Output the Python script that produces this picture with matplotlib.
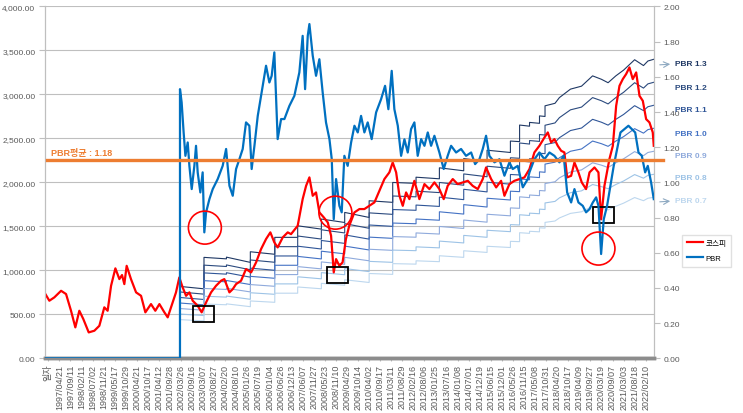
import matplotlib.pyplot as plt
from matplotlib.patches import Ellipse, Rectangle

plt.rcParams['font.family'] = ['Liberation Sans', 'Noto Sans CJK KR']

# --- x axis labels (category axis, one label every ~116 trading days) ---
date_labels = ['일자',
               '1997/04/21', '1997/09/11', '1998/02/11', '1998/07/02', '1998/11/21',
               '1999/05/17', '1999/10/29', '2000/04/21', '2000/10/17', '2001/04/12',
               '2001/09/28', '2002/03/26', '2002/09/16', '2003/03/07', '2003/08/27',
               '2004/02/20', '2004/08/10', '2005/01/26', '2005/07/19', '2006/01/04',
               '2006/06/26', '2006/12/13', '2007/06/07', '2007/11/27', '2008/05/23',
               '2008/11/10', '2009/04/29', '2009/10/14', '2010/04/02', '2010/09/17',
               '2011/03/11', '2011/08/29', '2012/02/16', '2012/08/06', '2013/01/25',
               '2013/07/16', '2014/01/08', '2014/07/01', '2014/12/19', '2015/06/15',
               '2015/12/01', '2016/05/26', '2016/11/15', '2017/05/08', '2017/10/31',
               '2018/04/20', '2018/10/17', '2019/04/09', '2019/09/27', '2020/03/19',
               '2020/09/07', '2021/03/03', '2021/08/18', '2022/02/10']

# --- KOSPI (left axis), x in label positions ---
kospi_x = [-0.27, 0.09, 0.54, 1.15, 1.60, 2.05, 2.44, 2.80, 3.16, 3.65,
           4.16, 4.61, 5.06, 5.36, 5.67, 6.06, 6.42, 6.66, 6.87, 7.08,
           7.47, 7.93, 8.38, 8.77, 9.28, 9.67, 10.04, 10.49, 10.79, 11.24,
           11.54, 11.84, 12.14, 12.45, 12.75, 13.05, 13.5, 13.86, 14.26, 14.71,
           15.16, 15.61, 15.91, 16.37, 16.67, 16.97, 17.42, 17.87, 18.33, 18.78,
           19.23, 19.68, 20.07, 20.43, 20.73, 21.19, 21.64, 21.94, 22.54, 22.99,
           23.3, 23.6, 23.9, 24.2, 24.5, 24.9, 25.26, 25.56, 25.8, 26.01,
           26.31, 26.6, 26.9, 27.2, 27.67, 28.12, 28.57, 29.02, 29.48, 29.93,
           30.38, 30.83, 31.13, 31.44, 31.74, 32.04, 32.34, 32.64, 33.09, 33.54,
           34.0, 34.45, 34.9, 35.35, 35.74, 36.1, 36.56, 37.0, 37.46, 37.92,
           38.36, 38.82, 39.27, 39.57, 40.03, 40.48, 40.93, 41.23, 41.68, 42.13,
           42.59, 43.04, 43.49, 43.94, 44.39, 44.85, 45.15, 45.45, 45.75, 46.05,
           46.36, 46.65, 46.9, 47.26, 47.56, 47.92, 48.22, 48.61, 48.92, 49.37,
           49.73, 49.97, 50.27, 50.72, 51.03, 51.33, 51.63, 51.93, 52.23, 52.53,
           52.83, 53.14, 53.44, 53.74, 54.04, 54.34, 54.64, 54.73]
kospi = [731, 655, 693, 768, 731, 541, 352, 541, 447, 295,
         314, 370, 580, 541, 825, 1023, 901, 947, 844, 1052,
         901, 750, 711, 523, 617, 541, 617, 523, 466, 636,
         750, 920, 807, 711, 750, 655, 598, 523, 636, 750,
         825, 882, 901, 750, 787, 844, 882, 1015, 977, 1091,
         1242, 1356, 1432, 1318, 1261, 1375, 1432, 1412, 1507, 1810,
         1961, 2057, 1848, 1886, 1659, 1602, 1545, 1393, 977, 1128,
         1052, 1091, 1356, 1507, 1659, 1697, 1697, 1734, 1773, 1905,
         2038, 2114, 2227, 2114, 1848, 1734, 1886, 1810, 2018, 1810,
         1981, 1924, 2000, 1924, 1810, 1961, 2038, 1981, 2000, 2018,
         1961, 1924, 2038, 2170, 2038, 1943, 2018, 1848, 1981, 2018,
         2038, 2057, 2151, 2341, 2416, 2511, 2568, 2455, 2492, 2416,
         2359, 2341, 2057, 2075, 2227, 2114, 2000, 1924, 2114, 2170,
         2114, 1580, 1961, 2265, 2416, 2870, 3098, 3174, 3231, 3307,
         3174, 3250, 2984, 2927, 2719, 2682, 2568, 2416]

# --- PBR (right axis) ---
pbr_x = [-0.27, 11.9, 11.9, 12.05, 12.23, 12.39, 12.6, 12.75, 12.96, 13.2,
         13.35, 13.5, 13.74, 13.95, 14.1, 14.26, 14.56, 14.86, 15.31, 15.76,
         16.07, 16.37, 16.67, 16.97, 17.27, 17.57, 17.87, 18.17, 18.38, 18.63,
         18.93, 19.38, 19.68, 19.98, 20.19, 20.43, 20.73, 21.04, 21.34, 21.79,
         22.24, 22.69, 22.99, 23.21, 23.45, 23.6, 23.9, 24.2, 24.5, 24.8,
         25.1, 25.41, 25.62, 25.8, 26.01, 26.31, 26.52, 26.76, 27.06, 27.37,
         27.67, 27.97, 28.27, 28.57, 28.87, 29.23, 29.63, 30.08, 30.44, 30.74,
         31.04, 31.28, 31.59, 31.89, 32.19, 32.49, 32.79, 33.09, 33.39, 33.7,
         34.0, 34.3, 34.6, 34.9, 35.35, 35.74, 36.1, 36.41, 36.86, 37.31,
         37.76, 38.22, 38.58, 38.97, 39.27, 39.57, 39.87, 40.33, 40.78, 41.23,
         41.68, 41.98, 42.43, 42.89, 43.34, 43.49, 43.94, 44.39, 44.85, 45.3,
         45.75, 46.2, 46.59, 46.9, 47.26, 47.56, 47.92, 48.31, 48.61, 48.92,
         49.22, 49.52, 49.73, 49.97, 50.21, 50.51, 50.81, 51.11, 51.42, 51.72,
         52.08, 52.44, 52.74, 53.05, 53.35, 53.65, 53.95, 54.19, 54.49, 54.73]
pbr = [0, 0, 1.53, 1.455, 1.284, 1.151, 1.227, 1.094, 0.962, 1.094,
       1.208, 1.057, 0.943, 1.057, 0.716, 0.83, 0.905, 0.962, 1.019, 1.094,
       1.19, 0.981, 0.924, 1.076, 1.132, 1.19, 1.341, 1.322, 1.076, 1.208,
       1.378, 1.549, 1.663, 1.568, 1.606, 1.739, 1.246, 1.36, 1.36, 1.435,
       1.492, 1.625, 1.833, 1.53, 1.833, 1.9, 1.72, 1.606, 1.7, 1.511,
       1.341, 1.246, 1.132, 0.791, 1.019, 0.867, 0.83, 1.151, 1.094, 1.227,
       1.322, 1.284, 1.378, 1.284, 1.341, 1.246, 1.398, 1.473, 1.549, 1.416,
       1.634, 1.416, 1.322, 1.151, 1.245, 1.17, 1.303, 1.341, 1.151, 1.246,
       1.208, 1.284, 1.208, 1.265, 1.17, 1.076, 1.151, 1.208, 1.17, 1.19,
       1.151, 1.17, 1.104, 1.132, 1.19, 1.265, 1.151, 1.114, 1.132, 1.038,
       1.114, 1.076, 1.094, 0.972, 1.019, 1.057, 1.132, 1.17, 1.132, 1.17,
       1.151, 1.114, 1.151, 0.943, 0.886, 0.962, 0.886, 0.867, 0.83, 0.848,
       0.886, 0.915, 0.867, 0.593, 0.791, 0.867, 0.981, 1.094, 1.19, 1.284,
       1.303, 1.322, 1.303, 1.284, 1.17, 1.151, 1.057, 1.094, 1.0, 0.905]

# --- book value per share in KOSPI points (= PBR 1.0 band), stepwise ---
bps_x = [11.9, 14.07, 14.07, 16.1, 16.1, 18.26, 18.26, 20.47, 20.47, 22.54,
         22.54, 24.68, 24.68, 26.79, 26.79, 29.0, 29.0, 31.13, 31.13, 33.24,
         33.24, 35.35, 35.35, 37.55, 37.55, 39.66, 39.66, 41.77, 41.77, 42.6,
         42.6, 43.5, 43.5, 44.4, 44.4, 44.9, 44.9, 45.8, 46.2, 47.2,
         48.2, 49.2, 50.0, 50.6, 51.3, 52.0, 53.0, 53.8, 54.2, 54.73]
bps = [629, 608, 883, 870, 885, 839, 932, 910, 1058, 1058,
       1159, 1130, 1218, 1188, 1276, 1232, 1378, 1364, 1538, 1530,
       1584, 1570, 1666, 1640, 1747, 1720, 1820, 1800, 1900, 1895,
       2040, 2030, 2063, 2055, 2120, 2115, 2208, 2230, 2280, 2354,
       2380, 2470, 2440, 2410, 2470, 2520, 2611, 2560, 2600, 2615]

band_multiples = [1.3, 1.2, 1.1, 1.0, 0.9, 0.8, 0.7]
band_colors = ['#1F3864', '#2B4A7E', '#2F5597', '#4472C4', '#8FAADC', '#9DC3E6', '#BDD7EE']

pbr_mean_text = 'PBR평균 : 1.18'
mean_line_level = 1.125          # where the orange line sits on the right axis

# annotations
circle_x = [14.15, 25.95, 49.73]
circle_pbr = [0.743, 0.828, 0.624]
box_x = [14.06, 26.18, 50.23]
box_kospi = [503, 947, 1628]

# --- Plot ---
fig = plt.figure(figsize=(7.43, 4.14), dpi=100)
ax = fig.add_axes([0.0606, 0.132, 0.8196, 0.850])
ax2 = ax.twinx()

for m, c in zip(band_multiples, band_colors):
    ax.plot(bps_x, [m * b for b in bps], color=c, lw=0.8, zorder=2)
ax.plot(kospi_x, kospi, color='#FF0000', lw=1.6, zorder=3, label='코스피')

ax2.plot(pbr_x, pbr, color='#0070C0', lw=1.6, zorder=3, label='PBR')
ax2.plot([-0.1, 55.6], [mean_line_level, mean_line_level], color='#ED7D31',
         lw=2.4, zorder=4, clip_on=False)
ax2.text(0.2, mean_line_level + 0.02, pbr_mean_text, color='#ED7D31',
         fontsize=6.5, fontweight='bold', va='bottom', zorder=5)

for cx, cy in zip(circle_x, circle_pbr):
    ax2.add_patch(Ellipse((cx, cy), 2.98, 0.1875, fill=False, ec='#FF0000',
                          lw=1.2, zorder=6))
for bx, by in zip(box_x, box_kospi):
    ax.add_patch(Rectangle((bx - 0.95, by - 91), 1.9, 182, fill=False,
                           ec='black', lw=1.3, zorder=6))

ax.set_xlim(-0.3, 54.75)
ax.set_ylim(0, 4000)
ax2.set_ylim(0, 2)
ax.set_yticks(range(0, 4001, 500))
ax.set_yticklabels([f'{v:,.2f}' for v in range(0, 4001, 500)])
ax2.set_yticks([i / 5 for i in range(11)])
ax2.set_yticklabels([f'{i / 5:.2f}' for i in range(11)])
ax.set_xticks(range(len(date_labels)))
ax.set_xticklabels(date_labels, rotation=90, fontsize=6.5, color='#595959')

ax.grid(axis='y', color='#BFBFBF', lw=0.8)
ax.set_axisbelow(True)
ax.tick_params(axis='y', labelsize=6, colors='#595959', length=4, color='#BFBFBF', pad=3)
ax2.tick_params(axis='y', labelsize=6, colors='#595959', length=4, color='#BFBFBF', pad=3)
ax.tick_params(axis='x', length=2, color='#BFBFBF', pad=2)

for a in (ax, ax2):
    a.spines['top'].set_visible(False)
    a.spines['left'].set_color('#BFBFBF')
    a.spines['right'].set_color('#BFBFBF')
    a.spines['bottom'].set_color('#8C8C8C')
    a.spines['bottom'].set_linewidth(2.5)

# PBR band labels on the right
label_y = [65, 88, 111, 134, 156, 179, 202]
for m, c, py in zip(band_multiples, band_colors, label_y):
    fig.text(675 / 743, 1 - py / 414, f'PBR {m:.1f}', color=c, fontsize=6,
             fontweight='bold', va='center')
for py in (label_y[0], label_y[-1]):
    fig.add_artist(plt.Annotation('', xy=(673 / 743, 1 - py / 414),
                                  xytext=(657 / 743, 1 - (py + 1) / 414),
                                  xycoords='figure fraction',
                                  arrowprops=dict(arrowstyle='->', color='#8EA9C1', lw=0.8)))

h1, l1 = ax.get_legend_handles_labels()
h2, l2 = ax2.get_legend_handles_labels()
fig.legend(h1 + h2, l1 + l2, loc='upper left', bbox_to_anchor=(682 / 743, 1 - 236 / 414),
           fontsize=5.5, frameon=True, fancybox=False, edgecolor='#D9D9D9',
           handlelength=2.2, handletextpad=0.3, borderpad=0.6, labelspacing=1.0,
           borderaxespad=0)

fig.savefig('out.png', dpi=100)
